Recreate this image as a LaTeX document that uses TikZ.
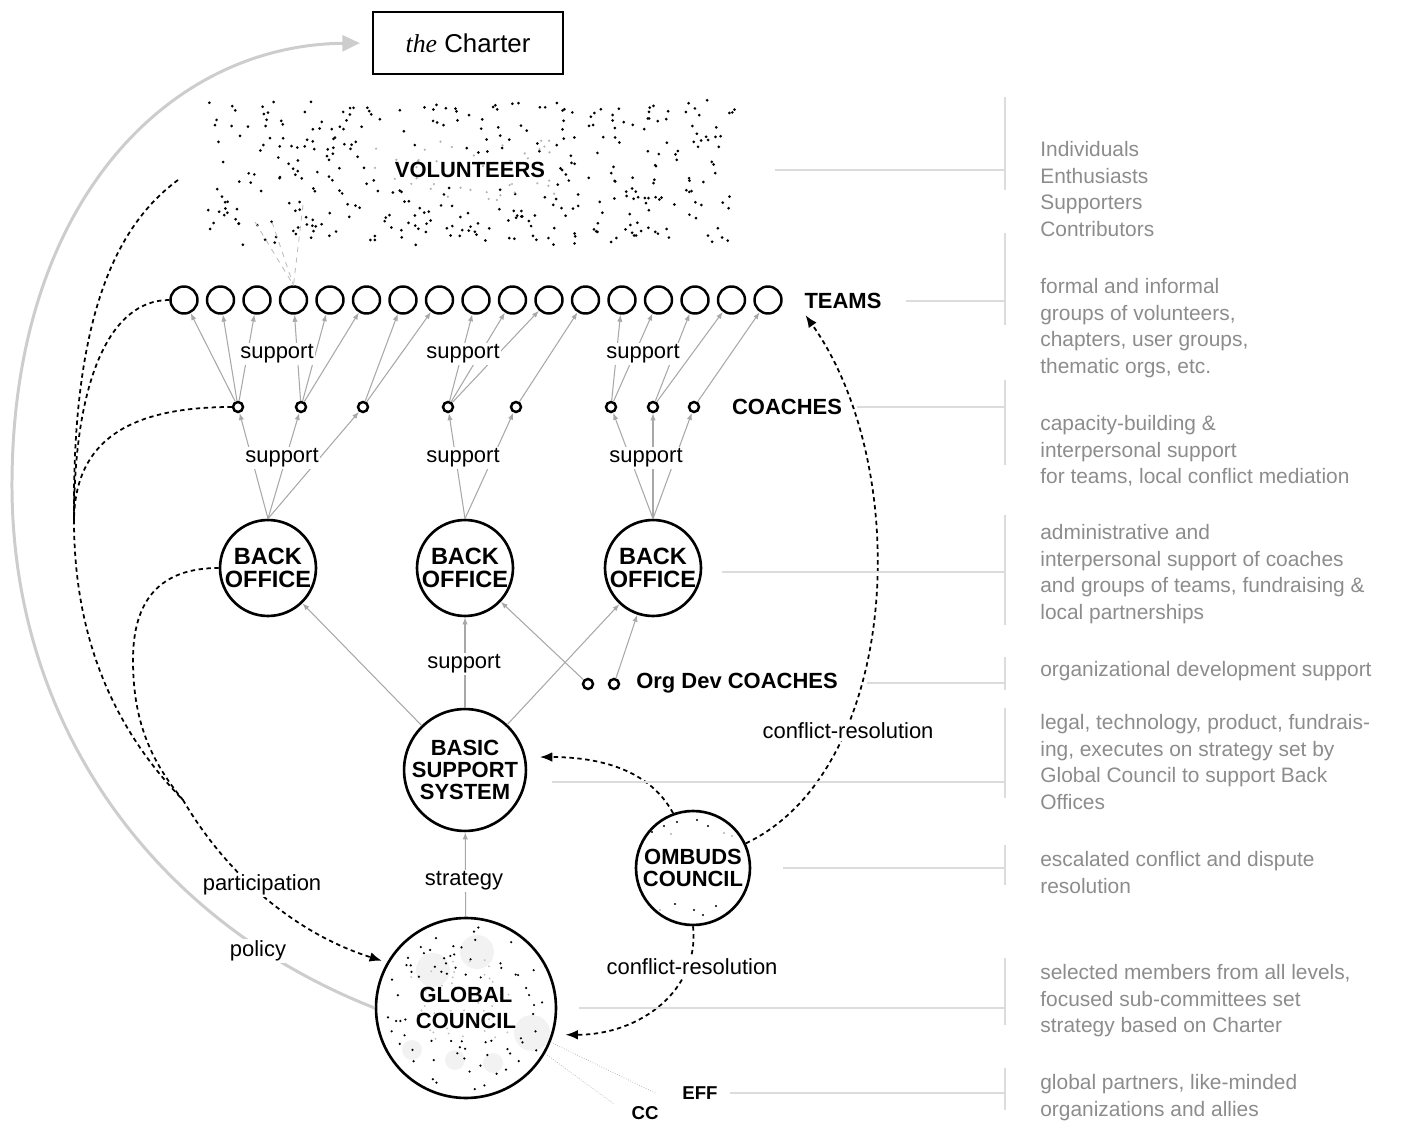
\documentclass[tikz,border=0pt]{standalone}
\usepackage{fontspec}
\setmainfont{Liberation Sans}
\newfontfamily\serifit{Liberation Serif}
\usetikzlibrary{positioning,arrows.meta,calc}
\definecolor{notegray}{HTML}{8C8C8C}
\definecolor{rulegray}{HTML}{DCDCDC}
\definecolor{arrowgray}{HTML}{A8A8A8}
\definecolor{policygray}{HTML}{CDCDCD}

\begin{document}
\begin{tikzpicture}[x=0.02cm,y=-0.02cm,
        team/.style={circle,draw,line width=1.4pt,minimum size=0.54cm,inner sep=0pt},
        coach/.style={circle,draw,line width=1.4pt,minimum size=0.2cm,inner sep=0pt},
        office/.style={circle,draw,line width=1.5pt,minimum size=1.92cm,inner sep=0pt,align=center,
            font=\bfseries\fontsize{13.4}{13}\selectfont},
        council/.style={circle,draw,line width=1.5pt,inner sep=0pt,align=center},
        tag/.style={font=\bfseries\fontsize{12.5}{14}\selectfont,inner sep=1pt},
        lbl/.style={fill=white,inner sep=1pt,font=\fontsize{12.5}{14}\selectfont},
        note/.style={anchor=north west,align=left,inner sep=0pt,text=notegray,
            font=\fontsize{11.9}{15.1}\selectfont},
        garrow/.style={draw=arrowgray,line width=0.6pt,-{Latex[length=4pt,width=3pt]}},
        darrow/.style={draw=black,line width=1pt,dash pattern=on 2.5pt off 2pt,-{Latex[length=7pt,width=5.5pt]}},
        dline/.style={draw=black,line width=1pt,dash pattern=on 2.5pt off 2pt},
        vline/.style={draw=black!25,dashed,line width=0.5pt},
        bracket/.style={draw=rulegray,line width=1.6pt}
    ]
    \useasboundingbox (0,0) rectangle (1410,1121);

    % volunteers cloud
    \pgfmathsetseed{17}
    \foreach \i in {1,...,400}{
        \pgfmathsetmacro{\vx}{205+530*rnd}
        \pgfmathsetmacro{\vy}{100+145*rnd}
        \pgfmathtruncatemacro{\keep}{(abs(\vx-463)<88 && abs(\vy-168)<15) ? 0 : 1}
        \ifnum\keep=1 \fill (\vx,\vy) circle[radius=0.85pt];\fi
    }
    \foreach \i in {1,...,40}{
        \pgfmathsetmacro{\vx}{375+180*rnd}
        \pgfmathsetmacro{\vy}{140+60*rnd}
        \fill[black!30] (\vx,\vy) circle[radius=0.7pt];
    }
    \node[font=\bfseries\fontsize{12.5}{14}\selectfont,minimum width=10.8cm,minimum height=3.1cm] (vol) at (470,170) {VOLUNTEERS};

    \node[draw,line width=0.85pt,minimum width=3.8cm,minimum height=1.24cm,
        font=\fontsize{14.7}{16}\selectfont] (charter) at (468,43) {{\serifit\itshape the} Charter};

    \foreach \i in {1,...,17}
        \node[team] (t\i) at ({184+36.5*(\i-1)},300) {};
    \node[tag] (teamlbl) at (843,301) {TEAMS};

    \foreach \x [count=\i] in {238,301,363,448,516,611,653,694}
        \node[coach] (c\i) at (\x,407) {};
    \node[tag] (coachlbl) at (787,407) {COACHES};

    \node[office] (bo1) at (268,568) {BACK\\OFFICE};
    \node[office] (bo2) at (465,568) {BACK\\OFFICE};
    \node[office] (bo3) at (653,568) {BACK\\OFFICE};

    \node[coach] (od1) at (588,684) {};
    \node[coach] (od2) at (614,684) {};
    \node[tag] (odlbl) at (737,683) {Org Dev COACHES};

    \node[council,minimum size=2.4cm,font=\bfseries\fontsize{12.5}{12.75}\selectfont] (bss) at (465,770) {BASIC\\SUPPORT\\SYSTEM};

    % ombuds dots
    \foreach \x/\y in {664/826,677/822,697/820,708/826,652/832,675/904,694/910,703/915,716/906}
        \fill (\x,\y) circle[radius=0.7pt];
    \foreach \x/\y in {671/834,724/833,732/836,660/910}
        \fill[black!30] (\x,\y) circle[radius=0.6pt];
    \node[council,minimum size=2.28cm,font=\bfseries\fontsize{12.5}{13}\selectfont] (omb) at (693,868) {OMBUDS\\COUNCIL};

    % global council blobs and dots
    \foreach \x/\y/\r in {477/952/0.34,433/970/0.34,532/1033/0.36,412/1050/0.2,455/1060/0.2,493/1063/0.2}
        \fill[black!5] (\x,\y) circle[radius=\r cm];
    \pgfmathsetseed{5}
    \foreach \i in {1,...,95}{
        \pgfmathsetmacro{\ga}{360*rnd}
        \pgfmathsetmacro{\gr}{82*sqrt(rnd)}
        \pgfmathsetmacro{\gx}{466+\gr*cos(\ga)}
        \pgfmathsetmacro{\gy}{1008+\gr*sin(\ga)}
        \pgfmathtruncatemacro{\keep}{(abs(\gx-466)<58 && abs(\gy-1008)<30) ? 0 : 1}
        \ifnum\keep=1 \fill (\gx,\gy) circle[radius=0.7pt];\fi
    }
    \foreach \i in {1,...,40}{
        \pgfmathsetmacro{\gx}{410+110*rnd}
        \pgfmathsetmacro{\gy}{960+80*rnd}
        \fill[black!25] (\gx,\gy) circle[radius=0.6pt];
    }
    \node[council,minimum size=3.6cm,font=\bfseries\fontsize{12.5}{14.7}\selectfont] (gc) at (466,1008) {GLOBAL\\COUNCIL};

    \node[tag,font=\bfseries\fontsize{10.6}{12}\selectfont] (eff) at (700,1093) {EFF};
    \node[tag,font=\bfseries\fontsize{10.6}{12}\selectfont] (cc) at (645,1113) {CC};

    \coordinate (v1) at (255,222);
    \coordinate (v2) at (272,222);
    \coordinate (v3) at (303,205);
    \foreach \v in {v1,v2,v3}
        \draw[vline] (\v) -- (t4.north);

    \foreach \c/\t in {1/1,1/2,1/3,2/4,2/5,2/6,3/7,3/8,4/9,4/10,4/11,5/12,6/13,6/14,7/15,7/16,8/17}
        \draw[garrow] (c\c) -- (t\t);
    \foreach \b/\c in {1/1,1/2,1/3,2/4,2/5,3/6,3/7,3/8}
        \draw[garrow] (bo\b.north) -- (c\c);
    \draw[garrow] (bss) -- (bo1);
    \draw[garrow] (bss) -- (bo2);
    \draw[garrow] (bss) -- (bo3);
    \draw[garrow] (od1) -- (bo2);
    \draw[garrow] (od2) -- (bo3);
    \draw[garrow] (gc) -- (bss);
    \draw[densely dotted,draw=arrowgray] (gc.-22) -- ([xshift=-0.5cm]eff.west);
    \draw[densely dotted,draw=arrowgray] (gc.-30) -- ([xshift=-0.3cm]cc.north west);

    % policy and participation
    \draw[draw=policygray,line width=1.7pt,-{Triangle[length=10pt,width=9pt]},shorten >=7pt]
        (gc.west) .. controls (150,920) and (10,720) .. (12,480)
        .. controls (14,200) and (170,45) .. (charter.west);
    \coordinate (volw) at (178,180);
    \coordinate (bend) at (74,520);
    \coordinate (join) at (183,800);
    \draw[dline] (volw) .. controls (110,230) and (72,330) .. (bend);
    \draw[dline] (t1.west) .. controls (110,300) and (74,380) .. (bend);
    \draw[dline] (c1.west) .. controls (130,407) and (75,440) .. (bend);
    \draw[dline] (bo1.west) .. controls (160,568) and (133,600) .. (133,660)
        .. controls (133,720) and (150,760) .. (join);
    \draw[darrow,shorten >=3pt] (bend) .. controls (74,640) and (115,730) .. (join)
        .. controls (230,880) and (300,935) .. (gc.150);

    % ombuds
    \draw[darrow,shorten >=8pt] (omb.110) .. controls (650,770) and (600,757) .. (bss.12);
    \draw[darrow,shorten >=3pt] (omb.25) .. controls (900,770) and (915,470) .. (teamlbl.south west);
    \draw[darrow,shorten >=7pt] (omb.south) .. controls (700,990) and (640,1035) .. (gc.-17);

    \node[lbl] (sup1) at (277,354) {support};
    \node[lbl] (sup2) at (463,354) {support};
    \node[lbl] (sup3) at (643,354) {support};
    \node[lbl] (sup4) at (282,458) {support};
    \node[lbl] (sup5) at (463,458) {support};
    \node[lbl] (sup6) at (646,458) {support};
    \node[lbl] (sup7) at (464,664) {support};
    \node[lbl] (strat) at (464,881) {strategy};
    \node[lbl] (part) at (262,885) {participation};
    \node[lbl] (pol) at (258,951) {policy};
    \node[lbl] (cr1) at (848,731) {conflict-resolution};
    \node[lbl] (cr2) at (692,967) {conflict-resolution};

    % right column
    \coordinate (brk) at (1005,0);
    \foreach \ya/\yb in {97/190,233/325,380/465,515/625,657/690,708/798,845/885,958/1025,1068/1110}
        \draw[bracket] (1005,\ya) -- (1005,\yb);
    \draw[bracket] ([xshift=0.7cm]vol.east) -- (vol.east -| brk);
    \draw[bracket] ([xshift=0.45cm]teamlbl.east) -- (teamlbl.east -| brk);
    \draw[bracket] ([xshift=0.25cm]coachlbl.east) -- (coachlbl.east -| brk);
    \draw[bracket] ([shift={(0.4cm,-0.08cm)}]bo3.east) -- ([yshift=-0.08cm]bo3.east -| brk);
    \draw[bracket] ([xshift=0.55cm]odlbl.east) -- (odlbl.east -| brk);
    \draw[bracket] ([shift={(0.5cm,-0.24cm)}]bss.east) -- ([yshift=-0.24cm]bss.east -| brk);
    \draw[bracket] ([xshift=0.64cm]omb.east) -- (omb.east -| brk);
    \draw[bracket] ([xshift=0.44cm]gc.east) -- (gc.east -| brk);
    \draw[bracket] ([xshift=0.2cm]eff.east) -- (eff.east -| brk);

    \node[note] (nvol) at (1040,141) {Individuals\\Enthusiasts\\Supporters\\Contributors};
    \node[note] (nteam) at (1040,278) {formal and informal\\groups of volunteers,\\chapters, user groups,\\thematic orgs, etc.};
    \node[note] (ncoach) at (1040,415) {capacity-building \&\\interpersonal support\\for teams, local conflict mediation};
    \node[note] (nbo) at (1040,524) {administrative and\\interpersonal support of coaches\\and groups of teams, fundraising \&\\local partnerships};
    \node[note] (nod) at (1040,661) {organizational development support};
    \node[note] (nbss) at (1040,714) {legal, technology, product, fundrais-\\ing, executes on strategy set by\\Global Council to support Back\\Offices};
    \node[note] (nomb) at (1040,851) {escalated conflict and dispute\\resolution};
    \node[note] (ngc) at (1040,964) {selected members from all levels,\\focused sub-committees set\\strategy based on Charter};
    \node[note] (neff) at (1040,1074) {global partners, like-minded\\organizations and allies};
\end{tikzpicture}
\end{document}
